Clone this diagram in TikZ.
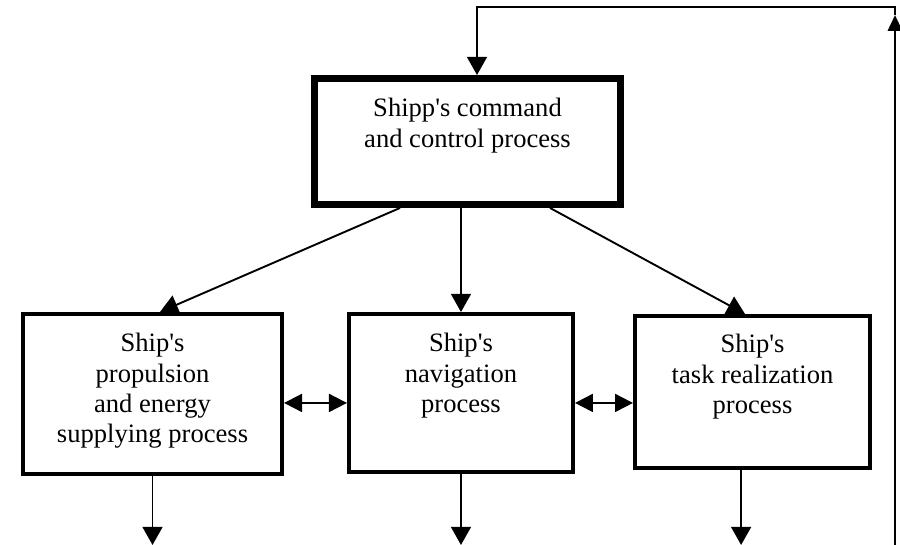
\documentclass[tikz,border=0pt]{standalone}
\usepackage{fontspec}
\setmainfont{Liberation Serif}[Ligatures=TeXOff]
\usetikzlibrary{arrows.meta,positioning,calc}

\begin{document}
\begin{tikzpicture}[font=\fontsize{12.6}{14.4}\selectfont,
  proc/.style={draw, line width=1.9pt, inner sep=0pt},
  lbl/.style={anchor=north, align=center, inner sep=0pt},
  link/.style={line width=0.9pt, -{Triangle[length=0.3cm,width=0.33cm]}},
  both/.style={line width=0.9pt, {Triangle[length=0.3cm,width=0.3cm]}-{Triangle[length=0.3cm,width=0.3cm]}}]
\useasboundingbox (0,0) rectangle (15,9.083);
\node[proc, line width=3.3pt, minimum width=5.1cm, minimum height=2.1cm] (cmd) at (7.792,6.725) {};
\node[lbl] (cmdtxt) at ([yshift=-0.38cm]cmd.north) {Shipp's command\\and control process};
\node[proc, minimum width=4.317cm, minimum height=2.667cm] (prop) at (2.542,2.517) {};
\node[lbl] (proptxt) at ([yshift=-0.35cm]prop.north) {Ship's\\propulsion\\and energy\\supplying process};
\node[proc, minimum width=3.733cm, minimum height=2.633cm] (nav) at (7.683,2.533) {};
\node[lbl] (navtxt) at ([yshift=-0.35cm]nav.north) {Ship's\\navigation\\process};
\node[proc, minimum width=3.917cm, minimum height=2.533cm] (task) at (12.542,2.55) {};
\node[lbl] (tasktxt) at ([yshift=-0.33cm]task.north) {Ship's\\task realization\\process};

\coordinate (floor) at (0,0);
\coordinate (row) at (0,2.367);
\coordinate (taskout) at ([xshift=-0.19cm]task.south);
\coordinate (fbbot) at (14.917,0);
\coordinate (fbtip) at (14.917,8.83);
\coordinate (fbtop) at (14.917,8.967);

% command process to the three sub-processes
\draw[link] ([xshift=-1.125cm]cmd.south) -- ([xshift=0.125cm]prop.north);
\draw[link] (nav.north |- cmd.south) -- (nav.north);
\draw[link] ([xshift=1.375cm]cmd.south) -- ([xshift=-0.125cm]task.north);

\draw[both] (prop.east |- row) -- (nav.west |- row);
\draw[both] (nav.east |- row) -- (task.west |- row);

% outputs
\draw[link] (prop.south) -- (prop.south |- floor);
\draw[link] (nav.south) -- (nav.south |- floor);
\draw[link] (taskout) -- (taskout |- floor);

% feedback loop
\draw[line width=0.9pt, -{Triangle[length=0.26cm,width=0.24cm]}] (fbbot) -- (fbtip);
\draw[link] (fbtip) -- (fbtop) -| ([xshift=0.158cm]cmd.north);
\end{tikzpicture}
\end{document}
